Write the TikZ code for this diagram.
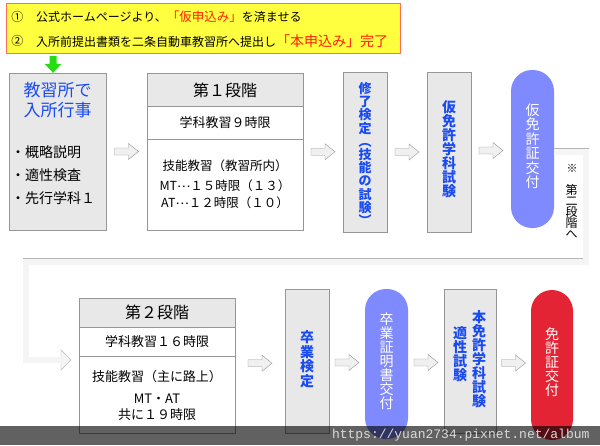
\documentclass[tikz,border=0pt]{standalone}
\usepackage{fontspec}
\setmainfont{Noto Sans CJK JP}
\newfontfamily\wmfont{Liberation Mono}
\usetikzlibrary{calc}
\definecolor{stepblue}{RGB}{25,75,245}
\definecolor{pillblue}{RGB}{128,138,255}
\definecolor{pillred}{RGB}{226,36,52}
\definecolor{notered}{RGB}{255,32,0}
\definecolor{noteyellow}{RGB}{255,255,64}
\definecolor{noteframe}{RGB}{255,110,90}
\definecolor{boxgray}{RGB}{232,232,232}
\definecolor{framegray}{RGB}{150,150,150}
\definecolor{arrowgreen}{RGB}{40,220,20}
\tikzset{
  graybox/.style={draw=framegray,fill=boxgray,inner sep=0pt},
  whitebox/.style={draw=framegray,fill=white,inner sep=0pt},
  pill/.style={rounded corners=21pt,inner sep=0pt},
  vtext/.style={align=center,inner sep=0pt,text=stepblue,font=\fontsize{14}{14}\selectfont\bfseries},
  wtext/.style={align=center,inner sep=0pt,text=white,font=\fontsize{14}{14}\selectfont},
  hollow/.pic={\draw[draw=framegray,fill=gray!12](-12,-3.5)--(2,-3.5)--(2,-8)--(12,0)--(2,8)--(2,3.5)--(-12,3.5)--cycle;}
}
\begin{document}
\begin{tikzpicture}[x=1pt,y=-1pt]
\useasboundingbox (0,0) rectangle (600,445);
% note on top
\node[draw=noteframe,fill=noteyellow,line width=1pt,minimum width=394,minimum height=50,inner sep=0pt] (note) at (203,28) {};
\node[font=\fontsize{12}{12}\selectfont] (n1num) at (17.5,17) {①};
\node[anchor=west,inner sep=0pt,font=\fontsize{12}{12}\selectfont] (n1) at (36,17) {公式ホームページより、{\fontsize{12.5}{12}\selectfont\color{notered}「仮申込み」}を済ませる};
\node[font=\fontsize{12}{12}\selectfont] (n2num) at (17.5,41) {②};
\node[anchor=west,inner sep=0pt,font=\fontsize{12}{12}\selectfont] (n2) at (36,41) {入所前提出書類を二条自動車教習所へ提出し{\fontsize{14}{14}\selectfont\color{notered}「本申込み」完了}};
% first row
\node[graybox,minimum width=97,minimum height=157] (box1) at (57.5,151.5) {};
\fill[arrowgreen,shift={(box1.north)}](-8,-17)--(-1,-17)--(-1,-9)--(4,-9)--(-4.5,0)--(-13,-9)--(-8,-9)--cycle;
\node[text=stepblue,align=center,font=\fontsize{17}{20}\selectfont] (box1title) at (57.5,100) {教習所で\\入所行事};
\node[anchor=west,align=left,inner sep=0pt,font=\fontsize{14}{23}\selectfont] (box1list) at (11,175) {・概略説明\\・適性検査\\・先行学科１};
\node[whitebox,minimum width=156,minimum height=157] (s1) at (225,151.5) {};
\filldraw[fill=boxgray,draw=framegray](s1.north west) rectangle (s1.east |- 0,106);
\draw[framegray](s1.west |- 0,139)--(s1.east |- 0,139);
\node[font=\fontsize{16}{16}\selectfont] (s1head) at (225,90) {第１段階};
\node[font=\fontsize{13}{13}\selectfont] (s1a) at (225,123) {学科教習９時限};
\node[font=\fontsize{12.5}{13}\selectfont] (s1b) at (225,166) {技能教習（教習所内）};
\node[align=center,font=\fontsize{12.5}{17}\selectfont] (s1c) at (225,194.5) {MT\raisebox{3pt}{…}１５時限（１３）\\AT\raisebox{3pt}{…}１２時限（１０）};
\node[graybox,minimum width=44,minimum height=160] (exam1) at (365,152) {};
\node[vtext,font=\fontsize{13}{13.2}\selectfont\bfseries] (exam1text) at (365,154) {修\\了\\検\\定\\︵\\技\\能\\の\\試\\験\\︶};
\node[graybox,minimum width=44,minimum height=160] (exam2) at (449,152) {};
\node[vtext] (exam2text) at (449,149) {仮\\免\\許\\学\\科\\試\\験};
\node[pill,fill=pillblue,minimum width=43,minimum height=158] (p1) at (532.5,149) {};
\node[wtext,font=\fontsize{14}{14.5}\selectfont] (p1text) at (532.5,146) {仮\\免\\許\\証\\交\\付};
\pic at ($(box1.east)!.5!(s1.west)$) {hollow};
\pic at ($(s1.east)!.5!(exam1.west)$) {hollow};
\pic at ($(exam1.east)!.5!(exam2.west)$) {hollow};
\pic at ($(exam2.east)!.5!(p1.west)$) {hollow};
% second row
\node[whitebox,minimum width=156,minimum height=135] (s2) at (157,365.5) {};
\filldraw[fill=boxgray,draw=framegray](s2.north west) rectangle (s2.east |- 0,327);
\draw[framegray](s2.west |- 0,356)--(s2.east |- 0,356);
\node[font=\fontsize{16}{16}\selectfont] (s2head) at (157,312) {第２段階};
\node[font=\fontsize{13}{13}\selectfont] (s2a) at (157,342) {学科教習１６時限};
\node[font=\fontsize{13}{13}\selectfont] (s2b) at (157,377) {技能教習（主に路上）};
\node[align=center,font=\fontsize{13}{15.5}\selectfont] (s2c) at (157,407.5) {MT・AT\\共に１９時限};
\node[graybox,minimum width=44,minimum height=144] (exam3) at (307,361) {};
\node[vtext,font=\fontsize{14}{14.5}\selectfont\bfseries] (exam3text) at (307,359) {卒\\業\\検\\定};
\node[pill,fill=pillblue,minimum width=43,minimum height=150] (p2) at (386.5,364) {};
\node[wtext] (p2text) at (386.5,361) {卒\\業\\証\\明\\書\\交\\付};
\node[graybox,minimum width=52,minimum height=144] (exam4) at (470,361) {};
\node[vtext] (exam4a) at (479,359) {本\\免\\許\\学\\科\\試\\験};
\node[vtext] (exam4b) at (460,354.5) {適\\性\\試\\験};
\node[pill,fill=pillred,minimum width=42,minimum height=150] (p3) at (552,365) {};
\node[wtext] (p3text) at (552,362) {免\\許\\証\\交\\付};
\pic at ($(s2.east)!.5!(exam3.west)$) {hollow};
\pic at ($(exam3.east)!.5!(p2.west)$) {hollow};
\pic at ($(p2.east)!.5!(exam4.west)$) {hollow};
\pic at ($(exam4.east)!.5!(p3.west)$) {hollow};
% band to the second stage
\coordinate (bandtip) at (71,360);
\draw[draw=framegray!70,double=gray!8,double distance=6,line join=miter](p1.east |- 0,151.5)--(586,151.5)--(586,261.5)--(26,261.5)--(26,360)--($(bandtip)+(-10,0)$);
\fill[gray!8]($(bandtip)+(-10,-10)$)--(bandtip)--($(bandtip)+(-10,10)$)--cycle;
\draw[framegray!70]($(bandtip)+(-10,-3.4)$)--($(bandtip)+(-10,-10)$)--(bandtip)--($(bandtip)+(-10,10)$)--($(bandtip)+(-10,3.4)$);
\node[font=\fontsize{11}{11}\selectfont] (bandmark) at (572,168) {※};
\node[align=center,inner sep=0pt,font=\fontsize{12}{11}\selectfont] (bandtext) at (571.5,211.5) {第\\二\\段\\階\\へ};
% watermark
\fill[black,fill opacity=0.62](0,426) rectangle (600,445);
\node[anchor=east,text=white!85!black,font=\wmfont\fontsize{13}{13}\selectfont] (wmark) at (593,435.5) {https://yuan2734.pixnet.net/album};
\end{tikzpicture}
\end{document}
